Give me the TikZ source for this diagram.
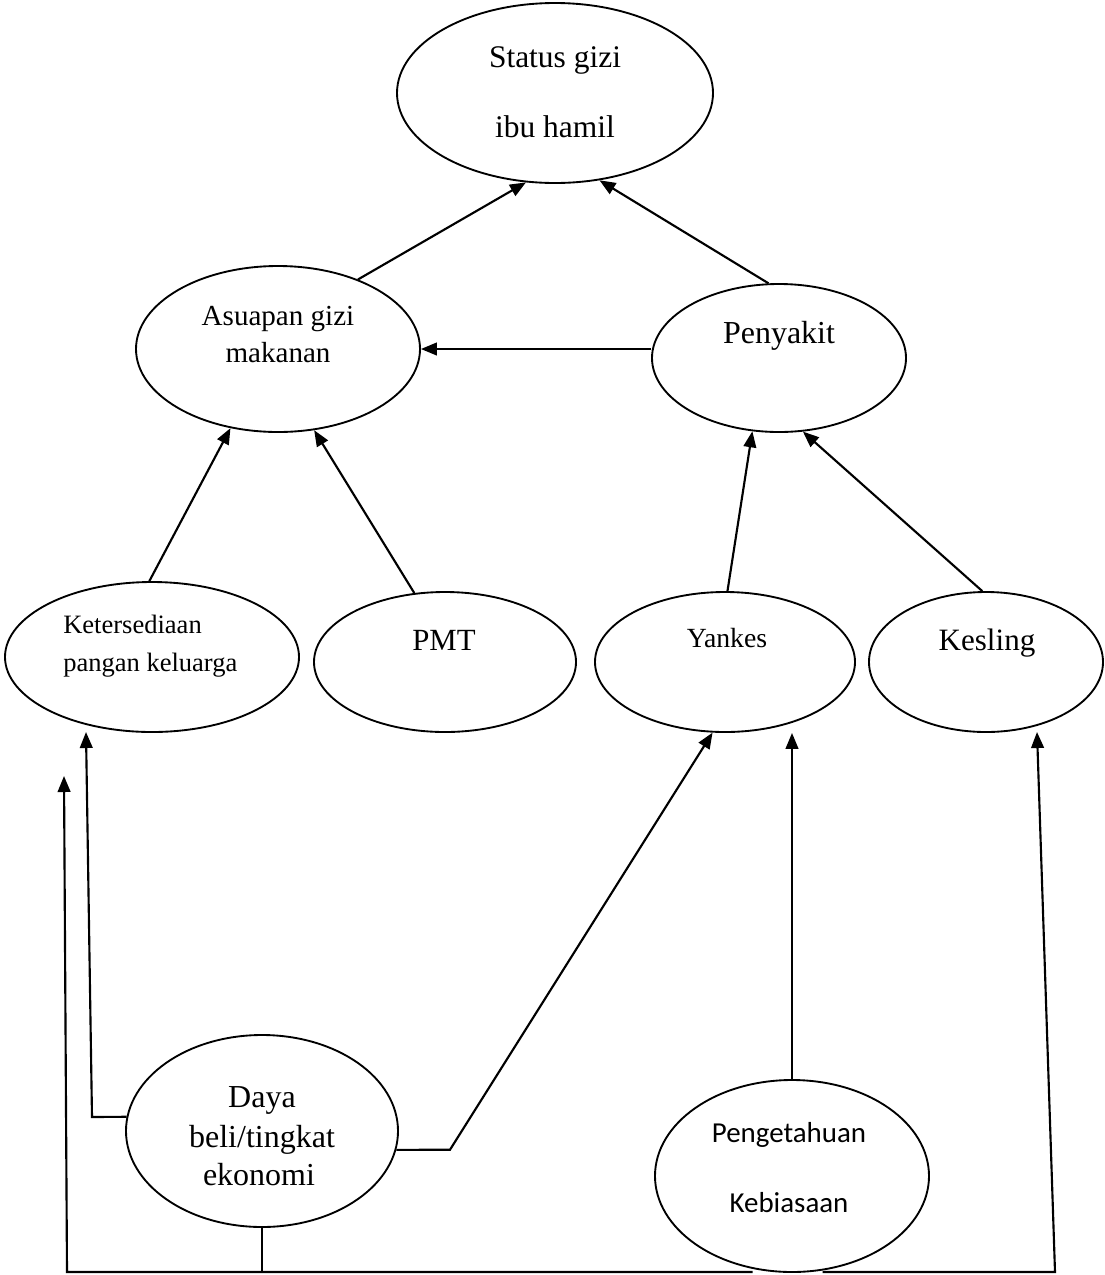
\documentclass[tikz,border=0pt]{standalone}
\usepackage{fontspec}
\setmainfont{Liberation Serif}
\newfontfamily\calibrifont{Carlito}
\usetikzlibrary{shapes.geometric,arrows.meta,calc}
\begin{document}
\begin{tikzpicture}[x=0.75pt,y=-0.75pt,
  ell/.style={draw, ellipse, line width=1.4pt, inner sep=0pt},
  txt/.style={anchor=base, inner sep=0pt},
  arr/.style={-{Triangle[length=12pt,width=9.5pt]}, line width=1.6pt},
  ln/.style={line width=1.4pt}]
\useasboundingbox (0,0) rectangle (1105,1275);

% ellipses
\node[ell, minimum width=237pt, minimum height=135pt] (status) at (555,93) {};
\node[ell, minimum width=213pt, minimum height=124.5pt] (asu) at (278,349) {};
\node[ell, minimum width=190.5pt, minimum height=111pt] (pen) at (779,358) {};
\node[ell, minimum width=220.5pt, minimum height=112.5pt] (ket) at (152,657) {};
\node[ell, minimum width=196.5pt, minimum height=105pt] (pmt) at (445,662) {};
\node[ell, minimum width=195pt, minimum height=105pt] (yank) at (725,662) {};
\node[ell, minimum width=175.5pt, minimum height=105pt] (kes) at (986,662) {};
\node[ell, minimum width=204pt, minimum height=144pt] (daya) at (262,1131) {};
\node[ell, minimum width=205.5pt, minimum height=144pt] (peng) at (792,1176) {};

% texts
\node[txt, font=\fontsize{23.6}{28}\selectfont] (t1) at (555,67) {Status gizi};
\node[txt, font=\fontsize{23.6}{28}\selectfont] (t2) at (555,137) {ibu hamil};
\node[txt, font=\fontsize{21.8}{26}\selectfont] (t3) at (278,325) {Asuapan gizi};
\node[txt, font=\fontsize{21.8}{26}\selectfont] (t4) at (278,362) {makanan};
\node[txt, font=\fontsize{24}{28}\selectfont] (t5) at (779,343) {Penyakit};
\node[txt, anchor=base west, font=\fontsize{19.9}{24}\selectfont] (t6) at (63,633) {Ketersediaan};
\node[txt, anchor=base west, font=\fontsize{19.9}{24}\selectfont] (t7) at (63,671) {pangan keluarga};
\node[txt, font=\fontsize{23.1}{28}\selectfont] (t8) at (444,650) {PMT};
\node[txt, font=\fontsize{20.8}{25}\selectfont] (t9) at (727,647) {Yankes};
\node[txt, font=\fontsize{23.3}{28}\selectfont] (t10) at (987,650) {Kesling};
\node[txt, font=\fontsize{24}{28}\selectfont] (t11) at (262,1107) {Daya};
\node[txt, font=\fontsize{24}{28}\selectfont] (t12) at (262,1147) {beli/tingkat};
\node[txt, font=\fontsize{24}{28}\selectfont] (t13) at (259,1185) {ekonomi};
\node[txt, font=\calibrifont\fontsize{21.7}{26}\selectfont] (t14) at (789,1142) {Pengetahuan};
\node[txt, font=\calibrifont\fontsize{21.7}{26}\selectfont] (t15) at (789,1212) {Kebiasaan};

% upper connectors
\draw[arr] (asu.41) -- (status.252);
\draw[arr] (pen.98) -- (status.297);
\draw[arr] (pen.west |- asu.east) -- (asu.east);
\draw[arr] (ket.92) -- (asu.239);
\draw[arr] (pmt.114) -- (asu.294);
\draw[arr] (yank.88) -- (pen.250);
\draw[arr] (kes.93) -- (pen.288);

% lower connectors
\coordinate (kA) at (92,1117);
\coordinate (kB) at (86,732);
\coordinate (yA) at (450,1149.7);
\coordinate (bl) at (67,1272);
\coordinate (lt) at (64,776);
\coordinate (br) at (1055,1272);
\coordinate (kt) at (1037,732);

\draw[arr] (daya.174) -- (kA) -- (kB);
\draw[arr] (daya.-8) -- (yA) -- (yank.260);
\draw[arr] (peng.north) -- (peng.north |- yank.south);
\draw[ln] (daya.south) -- (daya.south |- bl);
\draw[arr] (bl -| peng.247) -- (bl) -- (lt);
\draw[arr] (br -| peng.288) -- (br) -- (kt);
\end{tikzpicture}
\end{document}
